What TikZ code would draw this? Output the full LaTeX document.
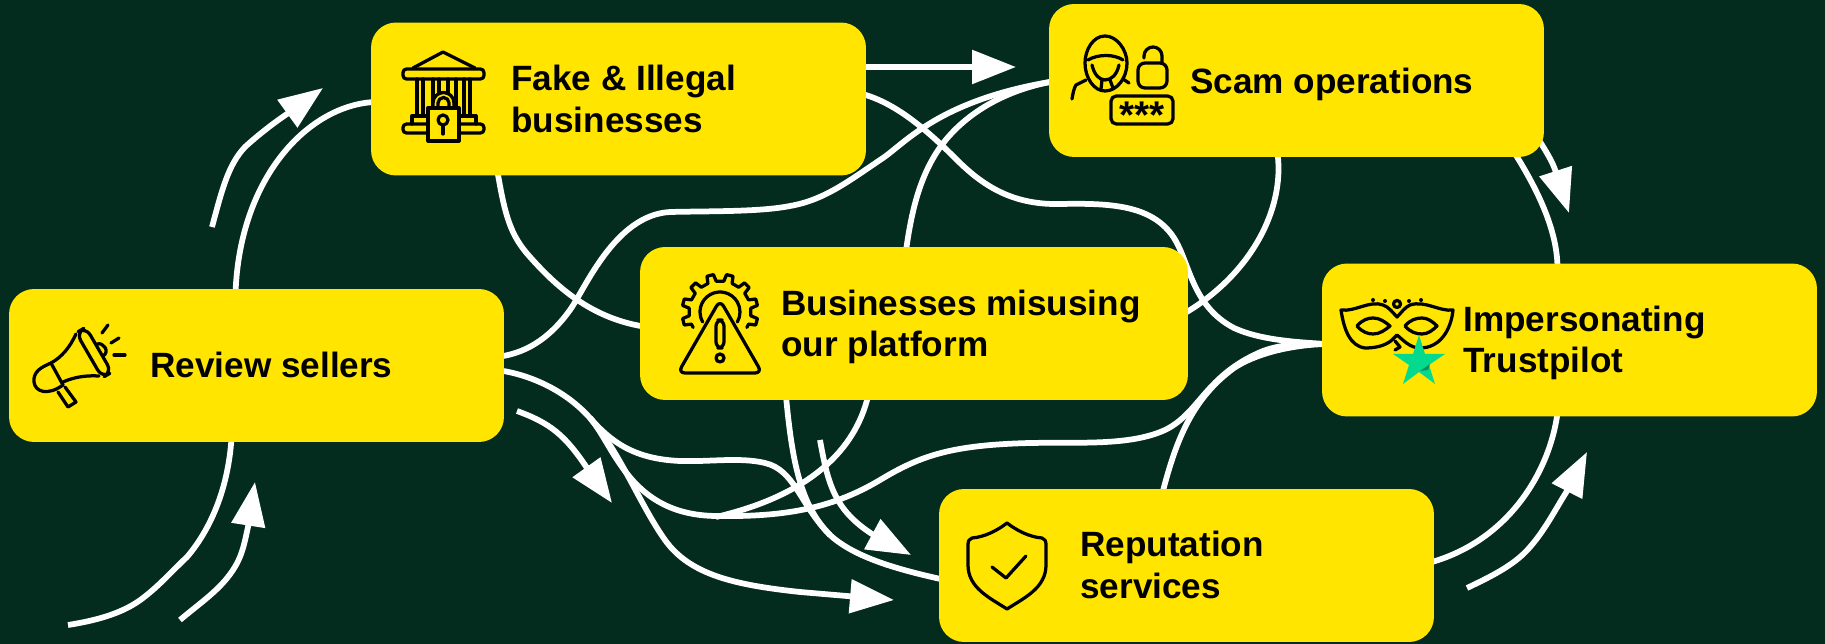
\documentclass[tikz,border=0pt]{standalone}
\usepackage{fontspec}
\setmainfont{Liberation Sans}
\usetikzlibrary{arrows.meta, backgrounds, calc}

\definecolor{bgdark}{HTML}{032B1E}
\definecolor{cardyellow}{HTML}{FFE500}
\definecolor{stargreen}{HTML}{04DA8D}
\definecolor{stardark}{HTML}{0A8F60}

\tikzset{
	card/.style = {fill = cardyellow, rounded corners = 0.5cm, minimum width = 9.9cm, minimum height = 3.06cm, inner sep = 0},
	cardtext/.style = {anchor = west, align = left, inner sep = 0, font = \fontsize{20}{23.8}\selectfont\bfseries},
	flow/.style = {draw = white, line width = 0.115cm},
	flowarrow/.style = {flow, -{Triangle[length = 8.8mm, width = 6.6mm]}},
	icon/.style = {draw = black, line width = 0.065cm, line join = round, line cap = round}
}

\begin{document}
\begin{tikzpicture}[x = 0.02cm, y = -0.02cm]
	%	canvas
	\useasboundingbox (0, 0) rectangle (1825, 644);

	%	boxes
	\node[card] (review) at (256.5, 365.5) {};
	\node[card] (fake) at (618.5, 99) {};
	\node[card] (scam) at (1296.5, 80.5) {};
	\node[card, minimum width = 10.96cm] (misuse) at (914, 323.5) {};
	\node[card] (trust) at (1569.5, 340) {};
	\node[card] (repute) at (1186.5, 565.5) {};

	%	labels
	\node[cardtext] (reviewtext) at (150, 365) {Review sellers};
	\node[cardtext] (faketext) at (511, 99) {Fake \& Illegal\\businesses};
	\node[cardtext] (scamtext) at (1190, 84) {Scam operations};
	\node[cardtext] (misusetext) at (781, 327) {Businesses misusing\\our platform};
	\node[cardtext] (trusttext) at (1463, 343) {Impersonating\\Trustpilot};
	\node[cardtext] (reputetext) at (1080, 565) {Reputation\\services};

	%	where the lines meet the boxes
	\coordinate (rs) at ($(review.south) + (-25, -4)$);
	\coordinate (rn) at ($(review.north) + (-21, 4)$);
	\coordinate (re1) at ($(review.east) + (-4, -9)$);
	\coordinate (re2) at ($(review.east) + (-4, 5)$);
	\coordinate (fw) at ($(fake.west) + (4, 3)$);
	\coordinate (fe1) at ($(fake.east) + (-4, -32)$);
	\coordinate (fe2) at ($(fake.east) + (-4, -5)$);
	\coordinate (fs) at ($(fake.south) + (-121, -4)$);
	\coordinate (sw) at ($(scam.west) + (4, 1)$);
	\coordinate (ss1) at ($(scam.south) + (-19, -4)$);
	\coordinate (ss2) at ($(scam.south) + (217, -6)$);
	\coordinate (se) at ($(scam.east) + (-10, 52)$);
	\coordinate (mn) at ($(misuse.north) + (-8, 4)$);
	\coordinate (mw) at ($(misuse.west) + (4, 3)$);
	\coordinate (me) at ($(misuse.east) + (-4, -10)$);
	\coordinate (ms1) at ($(misuse.south) + (-46, -4)$);
	\coordinate (ms2) at ($(misuse.south) + (-128, -4)$);
	\coordinate (tn) at ($(trust.north) + (-12, 4)$);
	\coordinate (tw) at ($(trust.west) + (4, 4)$);
	\coordinate (ts) at ($(trust.south) + (-12, -4)$);
	\coordinate (pn) at ($(repute.north) + (-24, 4)$);
	\coordinate (pw) at ($(repute.west) + (4, 14)$);
	\coordinate (pe) at ($(repute.east) + (-4, -3)$);

	%	free ends
	\coordinate (startmain) at (68, 625);
	\coordinate (endlink) at (716, 517);
	\coordinate (fork) at (590, 418);
	\coordinate (merge) at (830, 535);

	\begin{pgfonlayer}{background}
		\fill[bgdark] (0, 0) rectangle (1825, 644);

		%	lines behind the boxes
		\draw[flow] (startmain) .. controls (100, 620) and (125, 612) .. (143, 598) .. controls (160, 585) and (172, 571) .. (187, 557) .. controls (210, 530) and (228, 490) .. (rs) -- (rn) .. controls (240, 175) and (310, 105) .. (fw);
		\draw[flow] (re1) .. controls (530, 352) and (552, 335) .. (570, 310) .. controls (585, 289) and (615, 215) .. (670, 212) .. controls (710, 211) and (760, 212) .. (790, 206) .. controls (825, 200) and (850, 180) .. (883, 158) .. controls (905, 143) and (940, 100) .. (sw);
		\draw[flow] (fe2) .. controls (895, 103) and (925, 128) .. (957, 160) .. controls (985, 188) and (1015, 205) .. (1060, 204) .. controls (1110, 203) and (1150, 205) .. (1172, 235) .. controls (1190, 260) and (1190, 305) .. (1234, 328) .. controls (1260, 340) and (1295, 342) .. (tw);
		\draw[flow] (fs) .. controls (505, 215) and (510, 235) .. (530, 257) .. controls (555, 285) and (590, 318) .. (mw);
		\draw[flow] (ss1) .. controls (1285, 210) and (1250, 275) .. (me);
		\draw[flow] (ms1) .. controls (855, 450) and (810, 495) .. (endlink);
		\draw[flow] (mn) .. controls (911, 215) and (918, 183) .. (935, 155) .. controls (955, 122) and (995, 92) .. (sw);
		\draw[flow] (ms2) .. controls (792, 460) and (800, 505) .. (merge) .. controls (855, 558) and (900, 570) .. (pw);
		\draw[flow] (re2) .. controls (530, 375) and (565, 390) .. (fork) .. controls (615, 447) and (630, 515) .. (716, 516) .. controls (780, 517) and (830, 510) .. (880, 480) .. controls (920, 456) and (950, 445) .. (1030, 443) .. controls (1080, 442) and (1130, 446) .. (1165, 430) .. controls (1200, 413) and (1205, 375) .. (1263, 351) .. controls (1285, 343) and (1305, 344) .. (tw);
		\draw[flow] (fork) .. controls (612, 443) and (635, 459) .. (680, 461) .. controls (710, 462) and (740, 457) .. (765, 463) .. controls (795, 470) and (800, 505) .. (merge);
		\draw[flow] (pn) .. controls (1175, 445) and (1190, 400) .. (1234, 368) .. controls (1255, 354) and (1290, 345) .. (tw);
		\draw[flow] (ss2) .. controls (1538, 190) and (1557, 230) .. (tn) -- (ts) .. controls (1550, 470) and (1510, 540) .. (pe);

		%	arrows
		\draw[flowarrow] (180, 620) .. controls (200, 603) and (220, 590) .. (233, 570) .. controls (243, 555) and (245, 540) .. (248, 527) -- (255, 482);
		\draw[flowarrow] (212, 227) .. controls (222, 190) and (228, 165) .. (245, 147) .. controls (258, 135) and (275, 122) .. (287, 114) -- (323, 88);
		\draw[flowarrow] (fe1) -- (1016, 67);
		\draw[flowarrow] (se) .. controls (1545, 150) and (1552, 160) .. (1569, 213);
		\draw[flowarrow] (1467, 588) .. controls (1490, 577) and (1515, 565) .. (1530, 547) .. controls (1545, 530) and (1555, 510) .. (1567, 491) -- (1587, 452);
		\draw[flowarrow] (517, 411) .. controls (550, 423) and (565, 435) .. (587, 468) -- (612, 503);
		\draw[flowarrow] (820, 440) .. controls (828, 485) and (835, 510) .. (872, 534) -- (911, 555);
		\draw[flowarrow] (fork) .. controls (620, 452) and (640, 505) .. (665, 540) .. controls (690, 575) and (735, 585) .. (800, 592) -- (894, 600);
	\end{pgfonlayer}

	%	megaphone
	\draw[icon, rounded corners = 5] (85.8, 327.2) -- (111.8, 372.2) -- (102.2, 377.8) -- (76.2, 332.8) -- cycle;
	\draw[icon] (76, 334) .. controls (70, 347) and (62, 357) .. (51, 363);
	\draw[icon] (99, 376) .. controls (84, 375) and (72, 378) .. (63, 382);
	\draw[icon] (51, 363) -- (63, 385);
	\draw[icon] (51, 363) .. controls (42, 367) and (33, 371) .. (34, 382) .. controls (35, 392) and (48, 396) .. (63, 385);
	\draw[icon] (58, 392) -- (68, 407) -- (76, 402) -- (65, 387);
	\draw[icon] (97, 344) .. controls (104, 342) and (110, 352) .. (103, 356);
	\draw[icon] (102, 333) -- (108, 325);
	\draw[icon] (111, 343) -- (119, 338);
	\draw[icon] (114, 355) -- (125, 355);

	%	bank with padlock
	\draw[icon] (413, 68) -- (443, 52) -- (475, 68);
	\draw[icon, rounded corners = 2] (403, 69) rectangle (484, 79);
	\foreach \x in {417, 423, 433, 439, 448, 456, 464, 470}
		\draw[icon] (\x, 79) -- (\x, 116);
	\draw[icon] (412, 124) -- (412, 116) -- (476, 116) -- (476, 124);
	\draw[icon, rounded corners = 2] (403, 124) rectangle (484, 133);
	\draw[icon, fill = cardyellow] (433, 108) -- (433, 103) arc (180 : 360 : 10.5) -- (454, 108);
	\draw[icon, fill = cardyellow] (438, 108) -- (438, 103) arc (180 : 360 : 5.5) -- (449, 108);
	\draw[icon, fill = cardyellow] (428, 108) rectangle (459, 141);
	\draw[icon] (443, 120) circle (5);
	\draw[icon] (443, 125) -- (443, 134);

	%	hooded figure, padlock and password
	\draw[icon] (1105, 36) .. controls (1093, 36) and (1085, 50) .. (1085, 63) .. controls (1085, 78) and (1094, 91) .. (1105, 91) .. controls (1117, 91) and (1127, 78) .. (1127, 63) .. controls (1127, 50) and (1117, 36) .. (1105, 36) -- cycle;
	\draw[icon] (1088, 60) .. controls (1098, 54) and (1114, 54) .. (1123, 60);
	\draw[icon] (1092, 65) .. controls (1094, 74) and (1099, 80) .. (1105, 80) .. controls (1112, 80) and (1117, 74) .. (1119, 65);
	\draw[icon] (1102, 80) -- (1101, 89);
	\draw[icon] (1110, 80) -- (1113, 88);
	\draw[icon] (1086, 80) -- (1076, 85) .. controls (1074, 88) and (1073, 93) .. (1072, 99);
	\draw[icon] (1123, 79) -- (1129, 83);
	\draw[icon, rounded corners = 4] (1138, 63) rectangle (1167, 88);
	\draw[icon] (1144, 58) -- (1144, 56) arc (180 : 360 : 9) -- (1162, 63);
	\draw[icon, rounded corners = 3] (1111, 96) rectangle (1173, 124);
	\node[inner sep = 0, font = \fontsize{22}{22}\selectfont\bfseries] (pass) at (1142, 115) {***};

	%	gear and warning sign
	\begin{scope}[shift = {(720, 312)}]
		\draw[icon] (150 : 31)
			\foreach \a in {165, 195, 225, 255, 285, 315, 345, 375} {
				-- (\a - 8 : 31) -- (\a - 5 : 38) -- (\a + 5 : 38) -- (\a + 8 : 31)
			}
			-- (390 : 31);
		\draw[icon] (150 : 20) arc (150 : 390 : 20);
	\end{scope}
	\draw[icon, fill = cardyellow, rounded corners = 4] (720, 300) -- (762, 373) -- (678, 373) -- cycle;
	\draw[icon, rounded corners = 3.5] (716, 320) rectangle (724, 348);
	\draw[icon] (720, 358) circle (4);

	%	mask and star
	\draw[icon] (1341, 310) .. controls (1355, 312) and (1370, 300) .. (1383, 305) .. controls (1389, 307) and (1393, 313) .. (1397, 317) .. controls (1401, 313) and (1405, 307) .. (1410, 305) .. controls (1425, 300) and (1440, 312) .. (1453, 310) .. controls (1451, 330) and (1440, 348) .. (1420, 348) .. controls (1410, 348) and (1403, 340) .. (1397, 335) -- (1392, 340) .. controls (1385, 346) and (1375, 348) .. (1365, 348) .. controls (1350, 346) and (1344, 330) .. (1341, 310) -- cycle;
	\draw[icon] (1357, 326) .. controls (1362, 320) and (1368, 318) .. (1373, 318) .. controls (1380, 318) and (1385, 322) .. (1390, 326) .. controls (1385, 330) and (1380, 334) .. (1373, 334) .. controls (1368, 334) and (1362, 332) .. (1357, 326) -- cycle;
	\draw[icon] (1405, 326) .. controls (1410, 320) and (1416, 318) .. (1422, 318) .. controls (1428, 318) and (1433, 322) .. (1437, 326) .. controls (1433, 330) and (1428, 334) .. (1422, 334) .. controls (1416, 334) and (1410, 332) .. (1405, 326) -- cycle;
	\foreach \x/\y in {1373/300, 1385/301, 1409/301, 1421/300}
		\fill[black] (\x, \y) circle (2);
	\draw[icon] (1397, 304) circle (3.5);
	\draw[icon] (1395, 341) -- (1400, 347) -- (1395, 350);
	\fill[stargreen] (1419, 335) -- (1425, 354) -- (1445, 354) -- (1429, 365) -- (1435, 384) -- (1419, 372) -- (1403, 384) -- (1409, 365) -- (1393, 354) -- (1413, 354) -- cycle;
	\fill[stardark] (1420, 371) -- (1430, 364) -- (1428, 370) -- cycle;

	%	shield
	\draw[icon] (1007, 523) .. controls (998, 530) and (985, 537) .. (972, 538) .. controls (969, 539) and (968, 541) .. (968, 545) -- (968, 565) .. controls (968, 588) and (990, 598) .. (1007, 609) .. controls (1024, 598) and (1046, 588) .. (1046, 565) -- (1046, 545) .. controls (1046, 541) and (1045, 539) .. (1042, 538) .. controls (1029, 537) and (1016, 530) .. (1007, 523) -- cycle;
	\draw[icon] (992, 567) -- (1006, 578) -- (1026, 556);
\end{tikzpicture}
\end{document}
